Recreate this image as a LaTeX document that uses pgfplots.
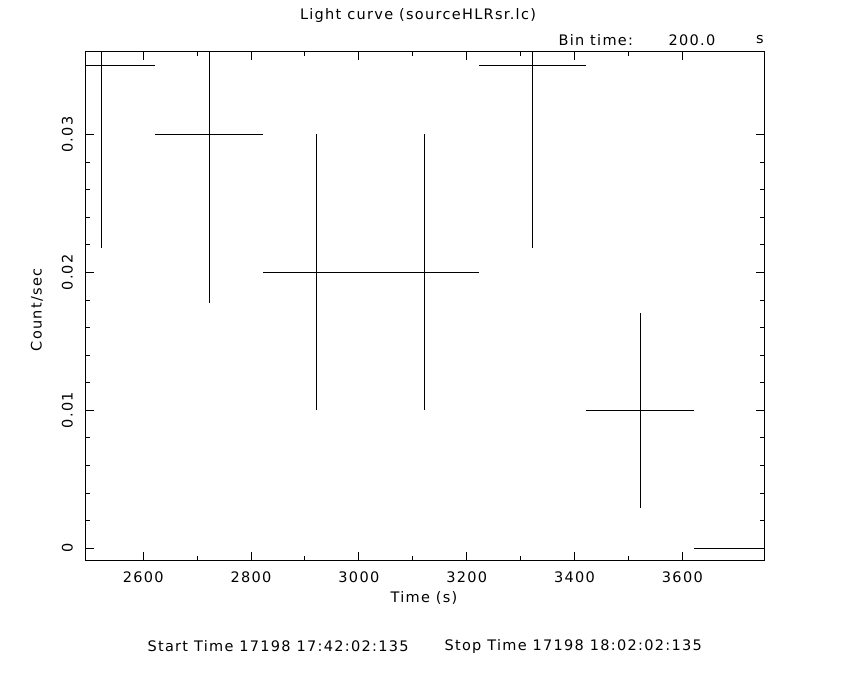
\documentclass[border=0pt]{standalone}
\usepackage{pgfplots}
\pgfplotsset{compat=1.18}
\usepackage{fontspec}
\setmainfont{DejaVu Sans}[LetterSpace=9]
\begin{document}
\begin{tikzpicture}[font=\fontsize{14.5bp}{17bp}\selectfont]
\useasboundingbox[fill=white] (0,0) rectangle (850bp,680bp);
\begin{axis}[
  at={(85.5bp,120bp)}, anchor=south west,
  scale only axis, width=678.8bp, height=508.3bp,
  xmin=2493, xmax=3752, ymin=-0.00085, ymax=0.036,
  axis line style={black, line width=0.9bp},
  tick style={black, line width=0.9bp},
  major tick length=8.3bp, minor tick length=4.2bp,
  tick align=inside,
  xtick={2600,2800,3000,3200,3400,3600}, minor x tick num=1,
  ytick={0,0.01,0.02,0.03}, minor y tick num=4,
  scaled y ticks=false, scaled x ticks=false,
  xticklabel style={anchor=north, inner sep=0pt, yshift=-12bp},
  yticklabel style={xshift=-12.5bp, rotate=90, anchor=south, inner sep=0pt},
  /pgf/number format/assume math mode=true,
  x tick label style={/pgf/number format/1000 sep={}},
  yticklabels={0,0.01,0.02,0.03},
  clip=true,
]
\addplot[draw=none, mark=none,
  error bars/.cd, x dir=both, x explicit, y dir=both, y explicit,
  error mark=none, error bar style={draw=black, line width=0.9bp}]
  table[x=x, y=y, x error=ex, y error=ey] {
x y ex ey
2522 0.035 100 0.01323
2722 0.030 100 0.01225
2922 0.020 100 0.01
3122 0.020 100 0.01
3322 0.035 100 0.01323
3522 0.010 100 0.00707
3722 0.000 100 0.0
};
\end{axis}
\node at (418bp,664bp) {Light curve (sourceHLRsr.lc)};
\node[anchor=west] at (555bp,640bp) {Bin time:};
\node at (692bp,640bp) {200.0};
\node at (760bp,640bp) {s};
\node at (424bp,82bp) {Time (s)};
\node[rotate=90] at (37bp,370bp) {Count/sec};
\node[anchor=west] at (144bp,34bp) {Start Time 17198 17:42:02:135};
\node[anchor=west] at (441bp,34bp) {Stop Time 17198 18:02:02:135};
\end{tikzpicture}
\end{document}
